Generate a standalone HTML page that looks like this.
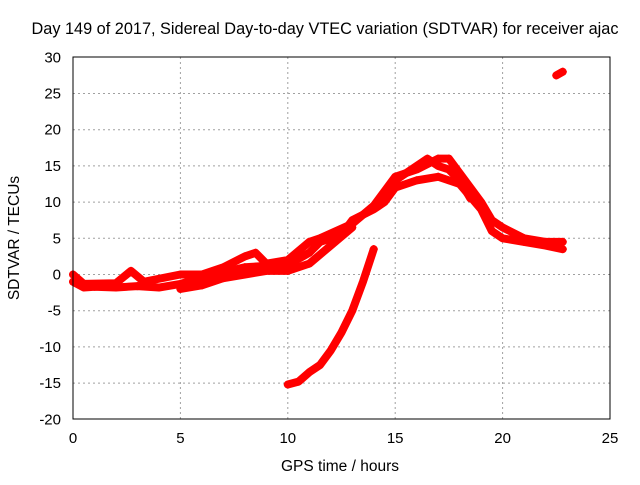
<!DOCTYPE html>
<html><head><meta charset="utf-8"><style>
body{margin:0;background:#fff}
svg{font-family:"Liberation Sans",sans-serif;font-size:15px}
</style></head><body>
<svg id="c" width="640" height="480">
<text x="325" y="34" text-anchor="middle" font-size="16.3">Day 149 of 2017, Sidereal Day-to-day VTEC variation (SDTVAR) for receiver ajac</text>
<text x="340" y="471" text-anchor="middle" font-size="15.5">GPS time / hours</text>
<text transform="translate(19,238) rotate(-90)" text-anchor="middle" font-size="15.5">SDTVAR / TECUs</text>
<g id="grid"></g><g id="ticks"></g><g id="data"></g>
<rect x="73" y="57" width="537" height="362" fill="none" stroke="#000"/>
</svg>
<script>
const xTicks=[0,5,10,15,20,25];
const yTicks=[-20,-15,-10,-5,0,5,10,15,20,25,30];
const seriesMain=[[0,-1],[0.5,-1.8],[1,-1.7],[2,-1.8],[3,-1.6],[4,-1.8],[5,-1.3],[6,-0.5],[7,0.3],[8,1],[9,1.2],[10,1.3],[11,3],[11.5,4.5],[12,5],[12.5,5.5],[13,7.5],[14,9],[14.5,10],[15,12],[16,13],[17,13.5],[18,12.5],[19,9],[19.5,6],[20,5],[21,4.5],[22,4],[22.8,3.5]];
const seriesUpper=[[0,0],[0.5,-1.3],[2,-1.2],[2.7,0.5],[3.3,-1],[5,0],[6,0],[7,1],[8,2.5],[8.5,3],[9,1.5],[10,2],[11,4.5],[11.5,5],[13,7],[14,9.5],[15,13.5],[16,14.5],[17,16],[17.5,16],[18,14],[19,10],[19.5,7.5],[20,6.5],[21,5],[22,4.5],[22.8,4.5]];
const seriesLower=[[5,-2],[6,-1.5],[7,-0.5],[8,0],[9,0.5],[10,0.5],[11,1.5],[12,4],[13,6.5]];
const seriesMid=[[14.7,11],[15,13],[16,15],[16.5,16],[17,15],[17.5,14.5],[18,13],[18.5,10.5]];
const seriesDip=[[10,-15.2],[10.5,-14.8],[11,-13.5],[11.5,-12.5],[12,-10.5],[12.5,-8],[13,-5],[13.5,-1],[14,3.5]];
const seriesTop=[[22.5,27.5],[22.8,28]];
const X=v=>73+v*21.48, Y=v=>274.5-v*7.24;
const NS='http://www.w3.org/2000/svg';
function mk(t,a,p){const e=document.createElementNS(NS,t);for(const k in a)e.setAttribute(k,a[k]);p.appendChild(e);return e;}
const g=document.getElementById('grid'),tk=document.getElementById('ticks'),d=document.getElementById('data');
xTicks.forEach(v=>{
 if(v>0&&v<25){const l=mk('line',{x1:X(v),x2:X(v),y1:57,y2:419,stroke:'#a0a0a0','stroke-dasharray':'2,3'},g);
 }
 const t=mk('text',{x:X(v),y:443,'text-anchor':'middle'},tk);t.textContent=v;
 
});
yTicks.forEach(v=>{
 if(v>-20&&v<30){const l=mk('line',{x1:73,x2:610,y1:Y(v),y2:Y(v),stroke:'#a0a0a0','stroke-dasharray':'2,3'},g);
 }
 const t=mk('text',{x:61,y:Y(v)+5,'text-anchor':'end'},tk);t.textContent=v;
 
});
[seriesMain,seriesUpper,seriesLower,seriesMid,seriesDip,seriesTop].forEach(s=>{
 const p=mk('polyline',{points:s.map(q=>X(q[0])+','+Y(q[1])).join(' '),fill:'none',stroke:'#f00','stroke-width':8,'stroke-linejoin':'round','stroke-linecap':'round'},d);
 
 s.forEach(q=>{const c=mk('path',{d:`M${X(q[0])-4},${Y(q[1])}h8M${X(q[0])},${Y(q[1])-4}v8`,stroke:'#f00','stroke-width':1.5},d);
 });
});
</script>
</body></html>
